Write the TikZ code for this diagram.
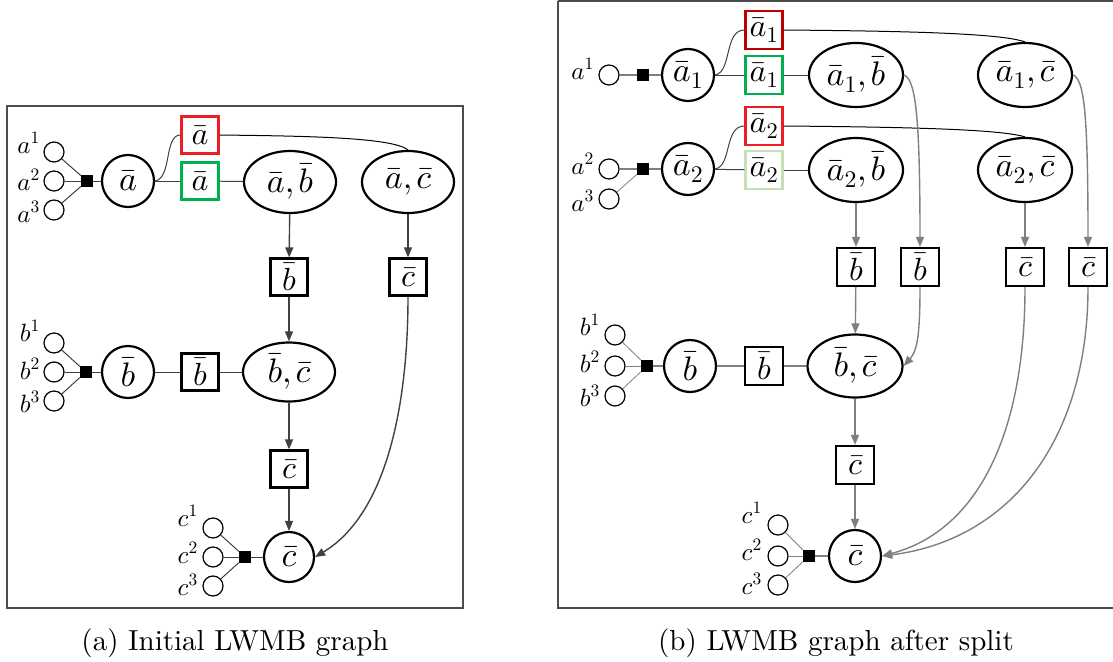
\documentclass[tikz,border=0pt]{standalone}
\usepackage[no-math]{fontspec}
\newfontfamily\capfont{lmroman10-regular.otf}
\DeclareFontShape{OML}{cmm}{m}{it}{<->cmmi10}{}
\DeclareFontShape{OT1}{cmr}{m}{n}{<->cmr10}{}
\usetikzlibrary{arrows.meta,shapes.geometric}
\definecolor{redA}{HTML}{EE1C24}
\definecolor{darkredB}{HTML}{C00000}
\definecolor{greenA}{HTML}{00B050}
\definecolor{lightgreenB}{HTML}{C5E0B4}
\definecolor{arrA}{HTML}{404040}
\definecolor{arrB}{HTML}{7F7F7F}
\tikzset{
 obs/.style={circle,draw,line width=1.2pt,minimum size=20pt,inner sep=0pt},
 fac/.style={rectangle,fill=black,minimum size=12pt,inner sep=0pt},
 var/.style={circle,draw,line width=2.2pt,minimum size=52pt,inner sep=0pt,font=\fontsize{34}{36}\selectfont},
 clus/.style={ellipse,draw,line width=2.2pt,minimum width=92pt,minimum height=62pt,inner sep=0pt,font=\fontsize{34}{36}\selectfont},
 sepbox/.style={rectangle,draw,line width=2.2pt,minimum size=37pt,inner sep=0pt,font=\fontsize{32}{34}\selectfont},
 lab/.style={font=\fontsize{25}{27}\selectfont,anchor=base east,inner sep=0pt},
 lnA/.style={draw=arrA,line width=1pt},
 lnB/.style={draw=arrB,line width=1.1pt},
 arA/.style={draw=arrA,line width=1.4pt,-{Triangle[length=10pt,width=8pt]}},
 arB/.style={draw=arrB,line width=1.4pt,-{Triangle[length=10pt,width=8pt]}},
 frm/.style={draw=black!70,line width=1.5pt},
 captxt/.style={font=\capfont\fontsize{29}{31}\selectfont,inner sep=0pt,anchor=base}
}
\begin{document}
\begin{tikzpicture}[x=1pt,y=-1pt]
\useasboundingbox (0,0) rectangle (1113,661);
% frames
\draw[frm] (7,106) rectangle (463,608);
\draw[frm] (558,1) -- (558,608) -- (1120,608);
\draw[frm] (558,1) -- (1120,1);

% ================= panel (a) =================
\node[obs] (a1) at (54,152) {};
\node[obs] (a2) at (54,181) {};
\node[obs] (a3) at (54,210) {};
\node[lab] (la1) at (40,153) {$a^1$};
\node[lab] (la2) at (40,190) {$a^2$};
\node[lab] (la3) at (40,222) {$a^3$};
\node[fac] (fa) at (87,181) {};
\node[var] (va) at (128,181) {$\bar{a}$};
\node[sepbox,draw=redA] (ra) at (200,135) {$\bar{a}$};
\node[sepbox,draw=greenA] (ga) at (200,181) {$\bar{a}$};
\node[clus] (cab) at (290,182) {$\bar{a},\bar{b}$};
\node[clus] (cac) at (408,182) {$\bar{a},\bar{c}$};
\node[sepbox] (sb1) at (289,277) {$\bar{b}$};
\node[sepbox] (sc1) at (408,277) {$\bar{c}$};

\node[obs] (b1) at (54,343) {};
\node[obs] (b2) at (54,372) {};
\node[obs] (b3) at (54,401) {};
\node[lab] (lb1) at (40,341) {$b^1$};
\node[lab] (lb2) at (40,379) {$b^2$};
\node[lab] (lb3) at (40,412) {$b^3$};
\node[fac] (fb) at (86,372) {};
\node[var] (vb) at (128,372) {$\bar{b}$};
\node[sepbox] (sb2) at (200,372) {$\bar{b}$};
\node[clus,minimum height=59pt] (cbc) at (289,372) {$\bar{b},\bar{c}$};
\node[sepbox] (sc2) at (289,469) {$\bar{c}$};

\node[obs] (c1) at (213,528) {};
\node[obs] (c2) at (213,557) {};
\node[obs] (c3) at (213,586) {};
\node[lab] (lc1) at (198,526) {$c^1$};
\node[lab] (lc2) at (198,563) {$c^2$};
\node[lab] (lc3) at (198,595) {$c^3$};
\node[fac] (fc) at (245,557) {};
\node[var,minimum size=50pt] (vc) at (289,557) {$\bar{c}$};

\foreach \s in {a1,a2,a3} \draw[lnA] (\s) -- (fa);
\draw[lnA] (fa) -- (va);
\draw[lnA] (va.east) .. controls (172,178) and (164,135) .. (ra.west);
\draw[lnA] (va) -- (ga);
\draw[lnA] (ga) -- (cab);
\draw[lnA,draw=black] (ra.east) .. controls (300,136) and (392,137) .. (cac.north);
\draw[arA] (cab) -- (sb1);
\draw[arA] (cac) -- (sc1);
\draw[arA] (sb1) -- (cbc);
\foreach \s in {b1,b2,b3} \draw[lnA] (\s) -- (fb);
\draw[lnA] (fb) -- (vb);
\draw[lnA] (vb) -- (sb2);
\draw[lnA] (sb2) -- (cbc);
\draw[arA] (cbc) -- (sc2);
\draw[arA] (sc2) -- (vc);
\foreach \s in {c1,c2,c3} \draw[lnA] (\s) -- (fc);
\draw[lnA] (fc) -- (vc);
\draw[arA] (sc1.south) .. controls (408,410) and (385,515) .. (vc.east);

% ================= panel (b) =================
\node[obs] (p1) at (609,75) {};
\node[obs] (p2) at (609,169) {};
\node[obs] (p3) at (609,199) {};
\node[lab] (lp1) at (594,79) {$a^1$};
\node[lab] (lp2) at (594,174) {$a^2$};
\node[lab] (lp3) at (594,211) {$a^3$};
\node[fac] (fp1) at (643,75) {};
\node[fac] (fp2) at (643,169) {};
\node[var] (va1) at (688,75) {$\bar{a}_1$};
\node[var] (va2) at (688,169) {$\bar{a}_2$};
\node[sepbox,draw=darkredB,minimum height=38pt] (ra1) at (764,30) {$\bar{a}_1$};
\node[sepbox,draw=greenA,minimum height=38pt] (ga1) at (764,75) {$\bar{a}_1$};
\node[sepbox,draw=redA,minimum height=38pt] (ra2) at (764,126) {$\bar{a}_2$};
\node[sepbox,draw=lightgreenB,minimum height=38pt] (ga2) at (764,170) {$\bar{a}_2$};
\node[clus,minimum width=94pt,minimum height=64pt] (c1b) at (856,75) {$\bar{a}_1,\bar{b}$};
\node[clus,minimum width=94pt,minimum height=64pt] (c1c) at (1025,75) {$\bar{a}_1,\bar{c}$};
\node[clus,minimum width=94pt,minimum height=64pt] (c2b) at (856,170) {$\bar{a}_2,\bar{b}$};
\node[clus,minimum width=94pt,minimum height=64pt] (c2c) at (1025,170) {$\bar{a}_2,\bar{c}$};
\node[sepbox,minimum size=38pt] (tb1) at (856,267) {$\bar{b}$};
\node[sepbox,minimum size=38pt] (tb2) at (920,267) {$\bar{b}$};
\node[sepbox,minimum size=38pt] (tc1) at (1025,267) {$\bar{c}$};
\node[sepbox,minimum size=38pt] (tc2) at (1088,267) {$\bar{c}$};

\node[obs] (q1) at (615,335) {};
\node[obs] (q2) at (615,366) {};
\node[obs] (q3) at (615,396) {};
\node[lab] (lq1) at (600,335) {$b^1$};
\node[lab] (lq2) at (600,372) {$b^2$};
\node[lab] (lq3) at (600,406) {$b^3$};
\node[fac] (fq) at (647,366) {};
\node[var] (vqb) at (690,366) {$\bar{b}$};
\node[sepbox,minimum size=38pt] (sq) at (764,366) {$\bar{b}$};
\node[clus,minimum width=95pt,minimum height=63pt] (cq) at (855,366) {$\bar{b},\bar{c}$};
\node[sepbox,minimum size=38pt] (sr) at (855,465) {$\bar{c}$};

\node[obs] (r1) at (778,525) {};
\node[obs] (r2) at (778,556) {};
\node[obs] (r3) at (778,585) {};
\node[lab] (lr1) at (762,523) {$c^1$};
\node[lab] (lr2) at (762,560) {$c^2$};
\node[lab] (lr3) at (762,594) {$c^3$};
\node[fac] (fr) at (809,556) {};
\node[var] (vr) at (855,556) {$\bar{c}$};

\draw[lnB] (p1) -- (fp1);
\draw[lnB] (fp1) -- (va1);
\draw[lnB] (p2) -- (fp2);
\draw[lnB,line width=0.8pt] (p3) -- (fp2);
\draw[lnB] (fp2) -- (va2);
\draw[lnA] (va1.east) .. controls (732,72) and (724,30) .. (ra1.west);
\draw[lnA] (va2.east) .. controls (732,166) and (724,126) .. (ra2.west);
\draw[lnA] (va1) -- (ga1);
\draw[lnA] (ga1) -- (c1b);
\draw[lnA] (va2) -- (ga2);
\draw[lnA] (ga2) -- (c2b);
\draw[lnA,draw=black] (ra1.east) .. controls (900,31) and (1000,33) .. (c1c.north);
\draw[lnA,draw=black] (ra2.east) .. controls (900,127) and (1000,129) .. (c2c.north);
\draw[arB] (c2b) -- (tb1);
\draw[arB] (c2c) -- (tc1);
\draw[arB] (c1b.east) .. controls (915,80) and (920,110) .. (tb2.north);
\draw[arB] (c1c.east) .. controls (1084,80) and (1088,110) .. (tc2.north);
\draw[arB] (tb1) -- (cq);
\draw[arB] (tb2.south) .. controls (920,330) and (918,350) .. (cq.east);
\foreach \s in {q1,q2,q3} \draw[lnB,line width=0.8pt] (\s) -- (fq);
\draw[lnB] (fq) -- (vqb);
\draw[lnB] (vqb) -- (sq);
\draw[lnB] (sq) -- (cq);
\draw[arB] (cq) -- (sr);
\draw[arB] (sr) -- (vr);
\foreach \s in {r1,r2,r3} \draw[lnB,line width=0.8pt] (\s) -- (fr);
\draw[lnB] (fr) -- (vr);
\draw[arB] (tc1.south) .. controls (1025,430) and (980,530) .. (vr.east);
\draw[arB] (tc2.south) .. controls (1088,440) and (1010,540) .. (vr.east);

% captions
\node[captxt] (capa) at (235,650) {(a) Initial LWMB graph};
\node[captxt] (capb) at (836,650) {(b) LWMB graph after split};
\end{tikzpicture}
\end{document}
